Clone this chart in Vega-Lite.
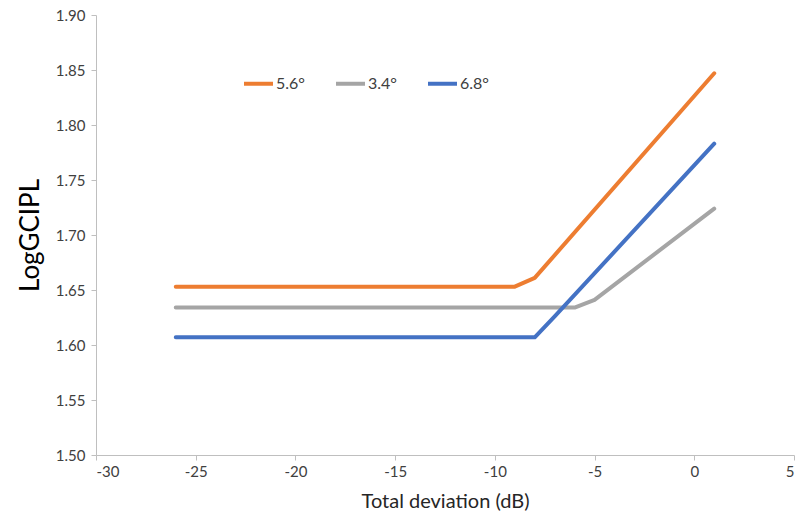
{
  "$schema": "https://vega.github.io/schema/vega-lite/v6.json",
  "width": 698,
  "height": 440,
  "autosize": {"type": "none"},
  "padding": {"left": 96, "top": 15, "right": 6, "bottom": 67},
  "background": "white",
  "config": {
    "view": {"stroke": null},
    "font": "Lato"
  },
  "data": {
    "values": [
      {"series": "5.6°", "td": -26, "v": 1.653},
      {"series": "5.6°", "td": -9, "v": 1.653},
      {"series": "5.6°", "td": -8, "v": 1.661},
      {"series": "5.6°", "td": 1, "v": 1.847},
      {"series": "3.4°", "td": -26, "v": 1.634},
      {"series": "3.4°", "td": -6, "v": 1.634},
      {"series": "3.4°", "td": -5, "v": 1.641},
      {"series": "3.4°", "td": 1, "v": 1.724},
      {"series": "6.8°", "td": -26, "v": 1.607},
      {"series": "6.8°", "td": -8, "v": 1.607},
      {"series": "6.8°", "td": -7, "v": 1.626},
      {"series": "6.8°", "td": 1, "v": 1.783}
    ]
  },
  "mark": {"type": "line", "strokeWidth": 4, "strokeCap": "round", "strokeJoin": "round"},
  "encoding": {
    "x": {
      "field": "td", "type": "quantitative",
      "scale": {"domain": [-30, 5], "nice": false, "zero": false},
      "axis": {
        "title": "Total deviation (dB)", "values": [-30, -25, -20, -15, -10, -5, 0, 5],
        "labelExpr": "replace(datum.label, '−', '-')",
        "grid": false, "domainColor": "#BFBFBF", "tickColor": "#BFBFBF", "tickSize": 5,
        "labelFontSize": 15, "labelColor": "#404040", "labelPadding": 4,
        "titleFontSize": 20, "titleFontWeight": "normal", "titleColor": "#262626", "titlePadding": 12
      }
    },
    "y": {
      "field": "v", "type": "quantitative",
      "scale": {"domain": [1.5, 1.9], "nice": false, "zero": false},
      "axis": {
        "title": "LogGCIPL", "values": [1.5, 1.55, 1.6, 1.65, 1.7, 1.75, 1.8, 1.85, 1.9], "format": ".2f",
        "grid": false, "domainColor": "#BFBFBF", "tickColor": "#BFBFBF", "tickSize": 5,
        "labelFontSize": 15, "labelColor": "#404040", "labelPadding": 6,
        "titleFontSize": 26, "titleFontWeight": "normal", "titleColor": "#000000", "titlePadding": 12
      }
    },
    "color": {
      "field": "series", "type": "nominal",
      "scale": {"domain": ["5.6°", "3.4°", "6.8°"], "range": ["#ED7D31", "#A5A5A5", "#4472C4"]},
      "legend": {
        "title": null, "orient": "none", "direction": "horizontal",
        "legendX": 146, "legendY": 52, "padding": 0,
        "symbolType": "stroke", "symbolSize": 841, "symbolStrokeWidth": 4,
        "labelFontSize": 16, "labelColor": "#404040", "labelOffset": 1,
        "columnPadding": 23
      }
    }
  }
}
